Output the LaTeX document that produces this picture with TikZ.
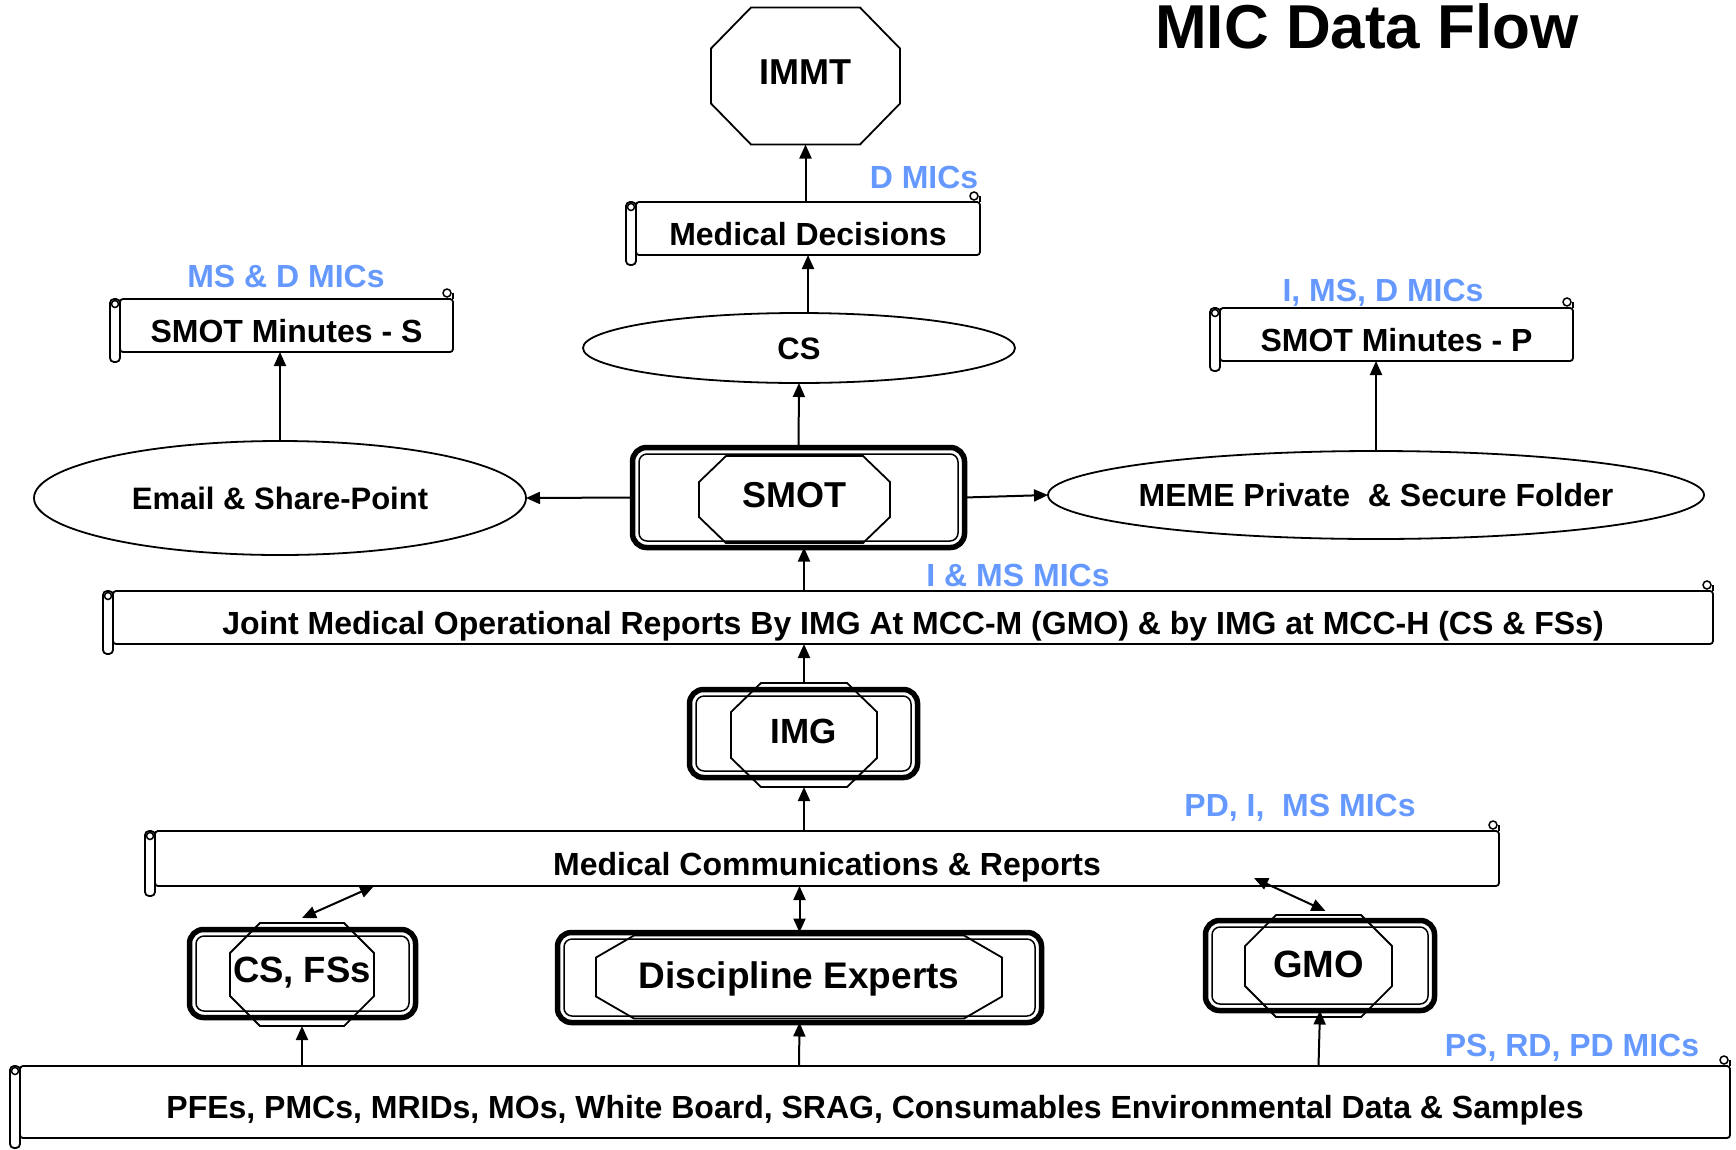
\documentclass[tikz,border=0pt]{standalone}
\usepackage{fontspec}
\setmainfont{Liberation Sans}
\usetikzlibrary{arrows.meta,shapes.geometric,calc}
\definecolor{micblue}{RGB}{102,153,255}
\tikzset{
  txt/.style={font=\fontsize{32}{38}\selectfont\bfseries, text height=23pt, text depth=0pt},
  mic/.style={txt, text=micblue},
  arr/.style={line width=2pt, -{Triangle[length=14pt,width=12pt]}},
  darr/.style={line width=2pt, {Triangle[length=14pt,width=12pt]}-{Triangle[length=14pt,width=12pt]}},
  oval/.style={draw, ellipse, line width=1.8pt, inner sep=0pt, outer sep=0pt, txt},
  scroll/.style={draw, line width=1.8pt, rounded corners=3pt, inner sep=0pt, outer sep=0pt, txt, text height=33pt,
    append after command={\pgfextra{
      \draw[line width=1.8pt, rounded corners=4pt] (\tikzlastnode.north west) rectangle ([xshift=-10pt,yshift=-10pt]\tikzlastnode.south west);
      \draw[line width=1.5pt] ([xshift=-5pt,yshift=-5pt]\tikzlastnode.north west) circle (3.5pt);
      \draw[line width=1.5pt] ([xshift=-6pt,yshift=6pt]\tikzlastnode.north east) circle (4pt);
      \draw[line width=1.8pt] (\tikzlastnode.north east) -- ([yshift=6pt]\tikzlastnode.north east);}}},
  frame/.style={draw, line width=5.5pt, rounded corners=14pt, inner sep=0pt, outer sep=0pt,
    append after command={\pgfextra{
      \draw[line width=1.5pt, rounded corners=8pt] ([xshift=6.5pt,yshift=-6.5pt]\tikzlastnode.north west) rectangle ([xshift=-6.5pt,yshift=6.5pt]\tikzlastnode.south east);}}},
  oct/.style 2 args={inner sep=0pt, outer sep=0pt, font=\fontsize{36}{40}\selectfont\bfseries, text height=26pt, text depth=10pt,
    append after command={\pgfextra{
      \draw[line width=1.8pt] ([xshift=#1]\tikzlastnode.north west) -- ([xshift=-#1]\tikzlastnode.north east)
        -- ([yshift=-#2]\tikzlastnode.north east) -- ([yshift=#2]\tikzlastnode.south east)
        -- ([xshift=-#1]\tikzlastnode.south east) -- ([xshift=#1]\tikzlastnode.south west)
        -- ([yshift=#2]\tikzlastnode.south west) -- ([yshift=-#2]\tikzlastnode.north west) -- cycle;}}},
}
\begin{document}
\begin{tikzpicture}[x=1pt,y=-1pt]
  \useasboundingbox (0,0) rectangle (1736,1149);
  \node[font=\fontsize{62}{70}\selectfont\bfseries, anchor=base] (title) at (1367,48) {MIC Data Flow}; % title
  % top row
  \node[oct={40pt}{41pt}, minimum width=189pt, minimum height=137pt] (immt) at (805.5,76) {IMMT}; % IMMT
  \node[scroll, minimum width=344pt, minimum height=53pt] (md) at (808,228.5) {Medical Decisions}; % decisions
  \node[mic] (dmic) at (924,177) {D MICs}; % decisions label
  \node[oval, minimum width=432pt, minimum height=70pt, font=\fontsize{31}{36}\selectfont\bfseries] (cs) at (799,348) {CS}; % CS
  \node[scroll, minimum width=333pt, minimum height=53pt] (sms) at (286.5,325.5) {SMOT Minutes - S}; % minutes S
  \node[mic] (msdmic) at (286,276) {MS \& D MICs}; % minutes S label
  \node[scroll, minimum width=353pt, minimum height=53pt] (smp) at (1396.5,334.5) {SMOT Minutes - P}; % minutes P
  \node[mic] (imsdmic) at (1383,290) {I, MS, D MICs}; % minutes P label
  % SMOT row
  \node[oval, minimum width=492pt, minimum height=114pt, font=\fontsize{31}{36}\selectfont\bfseries] (email) at (280,498) {Email \& Share-Point}; % email
  \node[oval, minimum width=656pt, minimum height=88pt, inner xsep=-6pt] (meme) at (1376,495) {MEME Private~ \& Secure Folder}; % MEME
  \node[frame, minimum width=332pt, minimum height=100pt] (smotf) at (798.5,497.5) {}; % SMOT frame
  \node[oct={27pt}{26pt}, minimum width=191pt, minimum height=87pt] (smot) at (794.5,499.5) {SMOT}; % SMOT
  \node[scroll, minimum width=1600pt, minimum height=53pt] (jmor) at (913,617.5) {Joint Medical Operational Reports By IMG At MCC-M (GMO) \& by IMG at MCC-H (CS \& FSs)}; % joint reports
  \node[mic] (imsmic) at (1018,575) {I \& MS MICs}; % joint reports label
  % IMG row
  \node[frame, minimum width=228pt, minimum height=88pt] (imgf) at (803.5,733.5) {}; % IMG frame
  \node[oct={30pt}{29pt}, minimum width=146pt, minimum height=104pt, font=\fontsize{35}{40}\selectfont\bfseries] (img) at (804,735) {IMG}; % IMG
  \node[scroll, minimum width=1344pt, minimum height=55pt] (mcr) at (827,858.5) {Medical Communications \& Reports}; % communications
  \node[mic] (pdimsmic) at (1300,805) {PD, I,~ MS MICs}; % communications label
  % bottom row
  \node[frame, minimum width=226pt, minimum height=88pt] (csff) at (302.5,973.5) {}; % CS, FSs frame
  \node[oct={30pt}{30pt}, minimum width=144pt, minimum height=103pt, font=\fontsize{36.5}{40}\selectfont\bfseries] (csf) at (302,974.5) {CS, FSs}; % CS, FSs
  \node[frame, minimum width=484pt, minimum height=90pt] (disf) at (799.5,977.5) {}; % experts frame
  \node[oct={38pt}{22pt}, minimum width=406pt, minimum height=83pt, font=\fontsize{37}{42}\selectfont\bfseries, text height=27pt, text depth=5pt] (dis) at (799,977) {Discipline Experts}; % experts
  \node[frame, minimum width=229pt, minimum height=90pt] (gmof) at (1320,965.5) {}; % GMO frame
  \node[oct={31pt}{31pt}, minimum width=147pt, minimum height=102pt, font=\fontsize{38}{42}\selectfont\bfseries, text height=27pt, text depth=5pt] (gmo) at (1318.5,966) {GMO}; % GMO
  \node[scroll, minimum width=1710pt, minimum height=72pt] (pfe) at (875,1102) {PFEs, PMCs, MRIDs, MOs, White Board, SRAG, Consumables Environmental Data \& Samples}; % sources
  \node[mic] (psrdmic) at (1572,1045) {PS, RD, PD MICs}; % sources label
  % flows
  \draw[arr] (md.north -| immt.south) -- (immt.south); % to IMMT
  \draw[arr] (cs.north -| md.south) -- (md.south); % to decisions
  \draw[arr] (smotf.north) -- (cs.south); % to CS
  \draw[arr] (smotf.west) -- (email.east); % to email
  \draw[arr] (smotf.east) -- (meme.west); % to MEME
  \draw[arr] (email.north) -- (sms.south -| email.north); % to minutes S
  \draw[arr] (meme.north) -- (smp.south -| meme.north); % to minutes P
  \draw[arr] (jmor.north -| img.north) -- (smotf.south -| img.north); % to SMOT
  \draw[arr] (img.north) -- (jmor.south -| img.north); % to joint reports
  \draw[arr] (mcr.north -| img.south) -- (img.south); % to IMG
  \draw[darr] ([yshift=5pt]csf.north) -- ([xshift=-453pt]mcr.south); % CS, FSs link
  \draw[darr] (disf.north) -- (mcr.south -| disf.north); % experts link
  \draw[darr] ([xshift=7pt,yshift=4pt]gmo.north) -- ([xshift=427pt,yshift=8pt]mcr.south); % GMO link
  \draw[arr] (pfe.north -| csf.south) -- (csf.south); % to CS, FSs
  \draw[arr] (pfe.north -| dis.south) -- (disf.south); % to experts
  \draw[arr] (pfe.north -| gmo.south) -- (gmof.south); % to GMO
\end{tikzpicture}
\end{document}
